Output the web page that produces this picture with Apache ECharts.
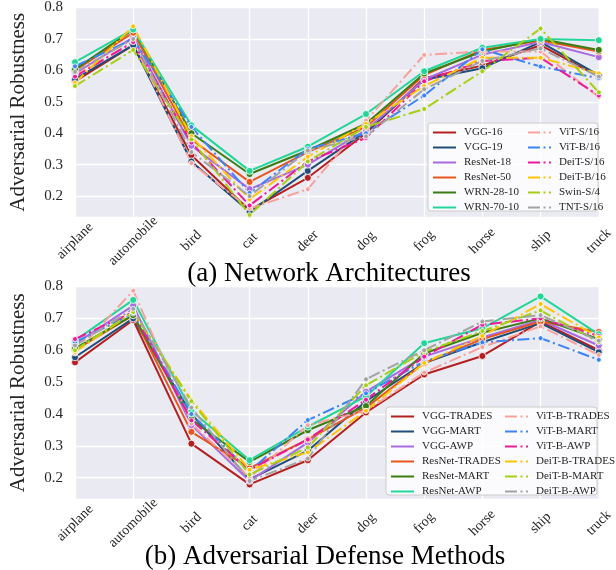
<!DOCTYPE html>
<html>
<head>
<meta charset="utf-8">
<script src="https://cdn.jsdelivr.net/npm/echarts@6/dist/echarts.min.js"></script>
<style>
  html, body { margin: 0; padding: 0; background: #fff; }
  #main { width: 616px; height: 570px; }
</style>
</head>
<body>
<div id="main"></div>
<script>
// CIFAR-10 classes
var categories = ['airplane', 'automobile', 'bird', 'cat', 'deer', 'dog', 'frog', 'horse', 'ship', 'truck'];
var yTicks = [0.2, 0.3, 0.4, 0.5, 0.6, 0.7, 0.8];

// (a) network architectures
var archNames = ['VGG-16', 'VGG-19', 'ResNet-18', 'ResNet-50', 'WRN-28-10', 'WRN-70-10',
	'ViT-S/16', 'ViT-B/16', 'DeiT-S/16', 'DeiT-B/16', 'Swin-S/4', 'TNT-S/16'];
var vgg16 = [0.565, 0.68, 0.33, 0.155, 0.258, 0.40, 0.575, 0.615, 0.68, 0.58];
var vgg19 = [0.572, 0.68, 0.31, 0.15, 0.28, 0.405, 0.57, 0.607, 0.69, 0.585];
var resnet18 = [0.59, 0.705, 0.36, 0.222, 0.30, 0.41, 0.57, 0.65, 0.69, 0.642];
var resnet50 = [0.60, 0.72, 0.38, 0.245, 0.34, 0.42, 0.585, 0.665, 0.695, 0.66];
var wrn2810 = [0.603, 0.73, 0.40, 0.27, 0.345, 0.43, 0.59, 0.66, 0.70, 0.665];
var wrn7010 = [0.626, 0.73, 0.425, 0.28, 0.357, 0.461, 0.597, 0.672, 0.70, 0.696];
var vitS = [0.585, 0.69, 0.305, 0.16, 0.222, 0.44, 0.649, 0.66, 0.66, 0.515];
var vitB = [0.613, 0.70, 0.42, 0.21, 0.35, 0.40, 0.52, 0.667, 0.612, 0.575];
var deitS = [0.58, 0.69, 0.37, 0.17, 0.31, 0.385, 0.565, 0.63, 0.64, 0.52];
var deitB = [0.56, 0.74, 0.39, 0.19, 0.325, 0.43, 0.55, 0.64, 0.64, 0.59];
var swinS = [0.55, 0.665, 0.38, 0.14, 0.31, 0.42, 0.477, 0.597, 0.733, 0.53];
var tntS = [0.595, 0.70, 0.34, 0.20, 0.345, 0.39, 0.54, 0.63, 0.67, 0.58];

// (b) adversarial defense methods
var defNames = ['VGG-TRADES', 'VGG-MART', 'VGG-AWP', 'ResNet-TRADES', 'ResNet-MART', 'ResNet-AWP',
	'ViT-B-TRADES', 'ViT-B-MART', 'ViT-B-AWP', 'DeiT-B-TRADES', 'DeiT-B-MART', 'DeiT-B-AWP'];
var vggTrades = [0.562, 0.695, 0.307, 0.179, 0.255, 0.405, 0.524, 0.582, 0.69, 0.60];
var vggMart = [0.578, 0.70, 0.40, 0.195, 0.285, 0.44, 0.56, 0.625, 0.685, 0.594];
var vggAwp = [0.62, 0.74, 0.365, 0.19, 0.31, 0.47, 0.58, 0.64, 0.695, 0.615];
var resTrades = [0.60, 0.71, 0.344, 0.23, 0.32, 0.42, 0.56, 0.635, 0.69, 0.657];
var resMart = [0.606, 0.71, 0.383, 0.25, 0.349, 0.425, 0.59, 0.655, 0.70, 0.635];
var resAwp = [0.63, 0.758, 0.41, 0.255, 0.36, 0.455, 0.622, 0.669, 0.769, 0.65];
var vitTrades = [0.59, 0.787, 0.37, 0.20, 0.365, 0.41, 0.53, 0.61, 0.675, 0.585];
var vitMart = [0.625, 0.715, 0.40, 0.22, 0.381, 0.465, 0.565, 0.625, 0.638, 0.57];
var vitAwp = [0.635, 0.72, 0.38, 0.225, 0.32, 0.445, 0.58, 0.68, 0.70, 0.645];
var deitTrades = [0.595, 0.72, 0.444, 0.225, 0.28, 0.41, 0.56, 0.645, 0.745, 0.64];
var deitMart = [0.60, 0.72, 0.44, 0.21, 0.295, 0.49, 0.595, 0.66, 0.725, 0.625];
var deitAwp = [0.615, 0.73, 0.42, 0.19, 0.26, 0.509, 0.60, 0.69, 0.71, 0.63];

var archValues = [vgg16, vgg19, resnet18, resnet50, wrn2810, wrn7010, vitS, vitB, deitS, deitB, swinS, tntS];
var defValues = [vggTrades, vggMart, vggAwp, resTrades, resMart, resAwp, vitTrades, vitMart, vitAwp, deitTrades, deitMart, deitAwp];

var palette = ['#b3201f', '#1f4e79', '#a86be0', '#e8561f', '#3a7d12', '#22d698',
	'#f8a19b', '#3c84f6', '#ec1a9a', '#ffc400', '#a6cf12', '#a3a3a3'];

var SERIF = '"Liberation Serif", "DejaVu Serif", serif';
var TEXT = '#262626';
var yMin = 0.1333, yMax = 0.8;

var chart = echarts.init(document.getElementById('main'));

function buildSeries(names, values, idx) {
	var out = [];
	for (var i = 0; i < names.length; i++) {
		var dashed = i >= 6;
		out.push({
			name: names[i],
			type: 'line',
			xAxisIndex: idx,
			yAxisIndex: idx,
			data: values[i],
			symbol: 'circle',
			symbolSize: dashed ? 5 : 7,
			color: palette[i],
			itemStyle: { color: palette[i], borderColor: '#fff', borderWidth: 0.8 },
			lineStyle: {
				color: palette[i],
				width: 2,
				type: dashed ? [12, 3.5, 2, 3.5] : 'solid'
			},
			emphasis: { disabled: true },
			animation: false
		});
	}
	return out;
}

function xAxis(idx) {
	return {
		type: 'category',
		gridIndex: idx,
		data: categories,
		boundaryGap: false,
		// kept on but invisible, the labels sit better this way
		axisLine: { show: true, lineStyle: { color: 'rgba(0,0,0,0)' } },
		axisTick: { show: false },
		splitLine: { show: true, lineStyle: { color: '#fff', width: 1.3 } },
		axisLabel: {
			rotate: 45, margin: 24, interval: 0,
			// centred under the tick like matplotlib
			align: 'center', verticalAlign: 'middle',
			fontFamily: idx ? 'Liberation Serif' : SERIF, fontSize: 14, color: TEXT
		}
	};
}

function yAxis(idx) {
	return {
		type: 'value',
		gridIndex: idx,
		min: yMin,
		max: yMax,
		splitNumber: 7,
		name: 'Adversarial Robustness',
		nameLocation: 'middle',
		nameGap: 46,
		nameTextStyle: { fontFamily: SERIF, fontSize: 21, color: TEXT },
		axisLine: { show: false },
		axisTick: { show: false },
		splitLine: { show: true, lineStyle: { color: '#fff', width: 1.3 } },
		axisLabel: {
			showMinLabel: false,
			margin: 12,
			fontFamily: SERIF, fontSize: 15, color: TEXT,
			formatter: function(v) {
				// only the round ticks
				for (var k = 0; k < yTicks.length; k++) {
					if (Math.abs(v - yTicks[k]) < 1e-6) return yTicks[k].toFixed(1);
				}
				return '';
			}
		}
	};
}

function legendCol(names, left, top) {
	return {
		data: names,
		orient: 'vertical',
		left: left,
		top: top,
		itemWidth: 23,
		itemHeight: 10,
		itemGap: 4,
		padding: 0,
		selectedMode: false,
		itemStyle: { opacity: 0 },
		textStyle: { fontFamily: SERIF, fontSize: 11, color: TEXT, padding: [0, 0, 0, 3] }
	};
}

var option = {
	backgroundColor: '#fff',
	animation: false,
	grid: [
		{ left: 57, right: 15, top: 3.5, height: 213.5, backgroundColor: '#eaeaf2', show: true, borderWidth: 0 },
		{ left: 57, right: 15, top: 286.5, height: 212.5, backgroundColor: '#eaeaf2', show: true, borderWidth: 0 }
	],
	title: [
		{ text: '(a) Network Architectures', left: 324, top: 255, textAlign: 'center',
			textStyle: { fontFamily: SERIF, fontSize: 27, fontWeight: 'normal', color: '#000' } },
		{ text: '(b) Adversarial Defense Methods', left: 320, top: 538, textAlign: 'center',
			textStyle: { fontFamily: SERIF, fontSize: 27, fontWeight: 'normal', color: '#000' } }
	],
	xAxis: [xAxis(0), xAxis(1)],
	yAxis: [yAxis(0), yAxis(1)],
	legend: [
		legendCol(archNames.slice(0, 6), 432, 127),
		legendCol(archNames.slice(6), 527, 127),
		legendCol(defNames.slice(0, 6), 390, 411),
		legendCol(defNames.slice(6), 504, 411)
	],
	graphic: [
		// legend frames
		{ type: 'rect', z: 3, shape: { x: 428, y: 123, width: 170, height: 88, r: 3 },
			style: { fill: 'rgba(255,255,255,0.8)', stroke: '#cccccc', lineWidth: 1 } },
		{ type: 'rect', z: 3, shape: { x: 386, y: 407, width: 211, height: 88, r: 3 },
			style: { fill: 'rgba(255,255,255,0.8)', stroke: '#cccccc', lineWidth: 1 } }
	],
	series: buildSeries(archNames, archValues, 0).concat(buildSeries(defNames, defValues, 1))
};

chart.setOption(option);
</script>
</body>
</html>
